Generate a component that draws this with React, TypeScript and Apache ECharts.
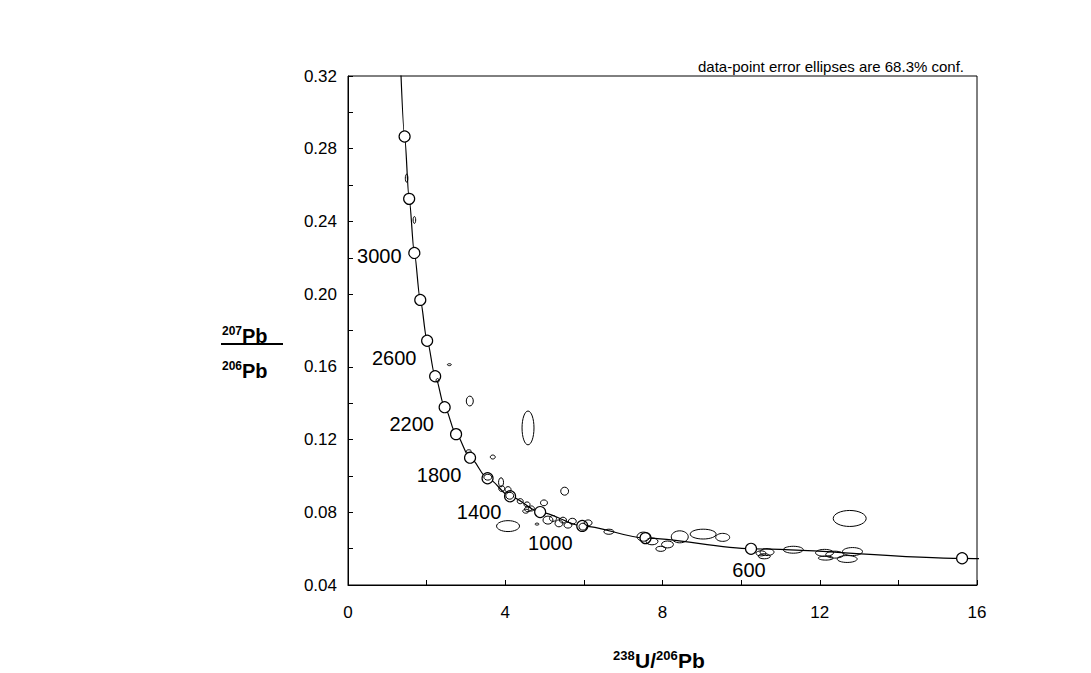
import React, { useEffect, useRef } from 'react';
import * as echarts from 'echarts';

// Concordia age markers (Ma) and their Tera-Wasserburg coordinates
const markerAges = [400, 600, 800, 1000, 1200, 1400, 1600, 1800, 2000, 2200, 2400, 2600, 2800, 3000, 3200, 3400];
const markerX = [15.621, 10.2518, 7.5684, 5.9593, 4.8875, 4.1227, 3.5496, 3.1046, 2.749, 2.4586, 2.217, 2.0129, 1.8384, 1.6874, 1.5557, 1.4398];
const markerY = [0.054701, 0.059901, 0.065799, 0.0725, 0.080122, 0.088807, 0.098716, 0.110036, 0.122986, 0.13782, 0.154833, 0.174366, 0.19682, 0.222656, 0.252419, 0.286738];

// Concordia curve end points (young end beyond x=16, old end above y=0.32)
const curveYoungEnd = [16.469, 0.054217];
const curveOldEnd = [1.337, 0.32634];

// Labelled ages
const labelledAges = [3000, 2600, 2200, 1800, 1400, 1000, 600];

// Data-point error ellipses: centre (x, y) and half-axes (rx, ry)
const ellX = [1.491, 1.689, 2.578, 2.278, 3.098, 4.579, 3.073, 3.683, 3.556, 3.893, 3.911, 4.071, 4.114, 4.381, 4.554, 4.985, 4.579, 4.521, 4.665, 5.511, 5.087, 4.071, 4.808, 5.214, 5.366, 5.468, 5.595, 5.707, 5.976, 6.108, 6.636, 7.517, 7.733, 8.127, 7.957, 8.439, 9.034, 9.531, 12.762, 10.659, 10.59, 10.507, 11.327, 12.122, 12.152, 12.381, 12.833, 12.698];
const ellY = [0.2638, 0.2408, 0.1612, 0.1525, 0.1412, 0.1264, 0.1136, 0.1104, 0.0993, 0.0965, 0.093, 0.0925, 0.0891, 0.0861, 0.0843, 0.0852, 0.0817, 0.0806, 0.0821, 0.0916, 0.0757, 0.0724, 0.0735, 0.0766, 0.0739, 0.0757, 0.0729, 0.0751, 0.0721, 0.0742, 0.0693, 0.0666, 0.064, 0.0623, 0.0599, 0.0665, 0.068, 0.0662, 0.0766, 0.0581, 0.0558, 0.0574, 0.0594, 0.0577, 0.0548, 0.0567, 0.0584, 0.0543];
const ellRx = [0.033, 0.033, 0.05, 0.038, 0.089, 0.152, 0.063, 0.063, 0.1, 0.063, 0.076, 0.076, 0.1, 0.076, 0.076, 0.089, 0.089, 0.076, 0.076, 0.1, 0.127, 0.292, 0.05, 0.089, 0.1, 0.089, 0.1, 0.1, 0.1, 0.1, 0.127, 0.165, 0.152, 0.152, 0.127, 0.216, 0.33, 0.178, 0.419, 0.178, 0.152, 0.127, 0.254, 0.229, 0.19, 0.229, 0.254, 0.254];
const ellRy = [0.0022, 0.0019, 0.00055, 0.0011, 0.0027, 0.0093, 0.0008, 0.0011, 0.0016, 0.0025, 0.0016, 0.0016, 0.0019, 0.0014, 0.0014, 0.0016, 0.0014, 0.0011, 0.0014, 0.0022, 0.0022, 0.003, 0.00055, 0.0016, 0.0019, 0.0016, 0.0016, 0.0016, 0.0019, 0.0016, 0.0014, 0.0025, 0.0019, 0.0019, 0.0014, 0.0033, 0.0027, 0.0022, 0.0044, 0.0019, 0.0014, 0.0014, 0.0019, 0.0019, 0.0011, 0.0019, 0.0022, 0.0019];

const FONT = '"Liberation Sans", Arial, Helvetica, sans-serif';

export default function App() {
  const ref = useRef<HTMLDivElement>(null);

  useEffect(() => {
    if (!ref.current) return;
    const chart = echarts.init(ref.current, undefined, { renderer: 'svg' });

    const curve = [curveYoungEnd, ...markerX.map((x, i) => [x, markerY[i]]), curveOldEnd];

    const labelOffsets: Record<number, number[]> = {
      3000: [-35, 3],
      2600: [-33, 17],
      2200: [-33, 17],
      1800: [-31, 17],
      1400: [-31, 16],
      1000: [-32, 17],
      600: [-2, 21],
    };

    const markerData = markerAges.map((age, i) => {
      const item: any = { value: [markerX[i], markerY[i]] };
      if (labelledAges.includes(age)) {
        item.label = {
          show: true,
          position: 'inside',
          offset: labelOffsets[age],
          formatter: String(age),
          fontSize: 20,
          fontFamily: FONT,
          color: '#000',
        };
      }
      return item;
    });

    const ellData = ellX.map((x, i) => [x, ellY[i], ellRx[i], ellRy[i]]);

    const boldSup = { fontSize: 12, fontWeight: 'bold', fontFamily: FONT, fill: '#000' };
    const boldMain = { fontSize: 20, fontWeight: 'bold', fontFamily: FONT, fill: '#000' };
    const boldSupX = { fontSize: 13, fontWeight: 'bold', fontFamily: FONT, fill: '#000' };
    const boldMainX = { fontSize: 21, fontWeight: 'bold', fontFamily: FONT, fill: '#000' };

    chart.setOption({
      animation: false,
      backgroundColor: '#fff',
      grid: {
        left: 348,
        top: 76,
        width: 629,
        height: 509,
        show: true,
        borderColor: '#000',
        borderWidth: 1,
        containLabel: false,
      },
      xAxis: {
        type: 'value',
        min: 0,
        max: 16,
        interval: 2,
        axisLine: { show: true, lineStyle: { color: '#000', width: 1 } },
        axisTick: { show: true, inside: true, length: 5, lineStyle: { color: '#000' } },
        axisLabel: {
          color: '#000',
          fontSize: 17,
          fontFamily: FONT,
          margin: 19,
          formatter: (v: number) => (Math.round(v) % 4 === 0 ? String(Math.round(v)) : ''),
        },
        splitLine: { show: false },
      },
      yAxis: {
        type: 'value',
        min: 0.04,
        max: 0.32,
        interval: 0.02,
        axisLine: { show: true, lineStyle: { color: '#000', width: 1 } },
        axisTick: { show: true, inside: true, length: 5, lineStyle: { color: '#000' } },
        axisLabel: {
          color: '#000',
          fontSize: 17,
          fontFamily: FONT,
          margin: 11,
          formatter: (v: number) => (Math.round(v * 100) % 4 === 0 ? v.toFixed(2) : ''),
        },
        splitLine: { show: false },
      },
      graphic: [
        {
          type: 'text',
          x: 964,
          y: 66,
          style: {
            text: 'data-point error ellipses are 68.3% conf.',
            fontSize: 15,
            fontFamily: FONT,
            fill: '#000',
            textAlign: 'right',
            textVerticalAlign: 'middle',
          },
        },
        // y-axis title: 207Pb / 206Pb
        { type: 'text', x: 222, y: 331, style: { ...boldSup, text: '207', textVerticalAlign: 'middle' } },
        { type: 'text', x: 242, y: 336, style: { ...boldMain, text: 'Pb', textVerticalAlign: 'middle' } },
        { type: 'line', shape: { x1: 221, y1: 344, x2: 283, y2: 344 }, style: { stroke: '#000', lineWidth: 2 } },
        { type: 'text', x: 222, y: 366, style: { ...boldSup, text: '206', textVerticalAlign: 'middle' } },
        { type: 'text', x: 242, y: 371, style: { ...boldMain, text: 'Pb', textVerticalAlign: 'middle' } },
        // x-axis title: 238U/206Pb
        { type: 'text', x: 613, y: 655, style: { ...boldSupX, text: '238', textVerticalAlign: 'middle' } },
        { type: 'text', x: 635, y: 660, style: { ...boldMainX, text: 'U/', textVerticalAlign: 'middle' } },
        { type: 'text', x: 656, y: 655, style: { ...boldSupX, text: '206', textVerticalAlign: 'middle' } },
        { type: 'text', x: 678, y: 660, style: { ...boldMainX, text: 'Pb', textVerticalAlign: 'middle' } },
      ],
      series: [
        {
          type: 'line',
          data: curve,
          showSymbol: false,
          smooth: 0.3,
          smoothMonotone: 'x',
          clip: true,
          lineStyle: { color: '#000', width: 1.2 },
          silent: true,
          z: 2,
        },
        {
          type: 'scatter',
          data: markerData,
          symbol: 'circle',
          symbolSize: 11,
          itemStyle: { color: '#fff', borderColor: '#000', borderWidth: 1.2, opacity: 1 },
          silent: true,
          z: 3,
        },
        {
          type: 'custom',
          data: ellData,
          encode: { x: 0, y: 1 },
          silent: true,
          z: 4,
          renderItem: (params: any, api: any) => {
            const c = api.coord([api.value(0), api.value(1)]);
            const s = api.size([api.value(2), api.value(3)]);
            return {
              type: 'ellipse',
              shape: { cx: c[0], cy: c[1], rx: s[0], ry: s[1] },
              style: { fill: 'none', stroke: '#000', lineWidth: 1 },
            };
          },
        },
      ],
    });

    return () => chart.dispose();
  }, []);

  return (
    <div
      ref={ref}
      style={{ position: 'absolute', left: 0, top: 0, width: 1091, height: 673, background: '#fff' }}
    />
  );
}
